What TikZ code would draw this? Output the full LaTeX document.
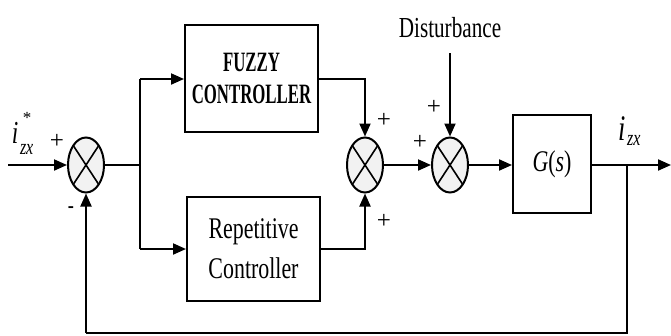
\documentclass[tikz,border=0pt]{standalone}
\usepackage{fontspec}
\usepackage{graphicx}
\setmainfont{Liberation Serif}
\usetikzlibrary{arrows.meta,shapes.geometric}
\newcommand\hs[1]{\scalebox{0.73}[1]{#1}}
\newcommand\fz[1]{\scalebox{0.6}[1]{#1}}
\begin{document}
\begin{tikzpicture}[x=1pt,y=-1pt,
  line width=2pt,
  arr/.style={-{Triangle[length=13pt,width=11pt]}},
  sumnode/.style={ellipse,draw,line width=2pt,fill=black!5,minimum width=36pt,minimum height=55pt,inner sep=0pt,
    path picture={\draw[line width=1.6pt] (path picture bounding box.north west)--(path picture bounding box.south east)
      (path picture bounding box.north east)--(path picture bounding box.south west);}},
  blk/.style={draw,line width=2pt,inner sep=0pt,align=center},
  txt/.style={font=\fontsize{29}{39}\selectfont,inner sep=0pt},
  pl/.style={font=\fontsize{25}{28}\selectfont,inner sep=0pt}
]
\useasboundingbox[fill=white] (0,0) rectangle (671,335);
% nodes
\coordinate (in) at (8,165);
\node[sumnode] (s1) at (86,165) {};
\coordinate (b) at (140,165);
\coordinate (bt) at (140,79);
\coordinate (bb) at (140,249);
\node[blk,minimum width=133pt,minimum height=107pt,font=\bfseries\fontsize{28}{32}\selectfont] (fz) at (251.5,78.5) {\fz{FUZZY}\\\fz{CONTROLLER}};
\node[blk,minimum width=133pt,minimum height=104pt,font=\fontsize{30}{40}\selectfont] (rc) at (253.5,249) {\hs{Repetitive}\\\hs{Controller}};
\node[sumnode] (s3) at (365,165) {};
\node[sumnode] (s4) at (450,165) {};
\node[txt] (dist) at (450,28) {\hs{Disturbance}};
\coordinate (dtop) at (450,53);
\node[blk,minimum width=78pt,minimum height=98pt,font=\fontsize{30}{34}\selectfont] (g) at (552,164) {\hs{\textit{G}(\textit{s})}};
\coordinate (out) at (671,165);
\coordinate (br) at (627,165);
\coordinate (fb1) at (627,333);
\coordinate (fb2) at (86,333);
% connectors
\draw[arr] (in) -- (s1.west);
\draw (s1.east) -- (b);
\draw (bt) -- (bb);
\draw[arr] (bt) -- (fz.west |- bt);
\draw[arr] (bb) -- (rc.west |- bb);
\draw[arr] (fz.east |- bt) -| (s3.north);
\draw[arr] (rc.east |- bb) -| (s3.south);
\draw[arr] (s3.east) -- (s4.west);
\draw[arr] (dtop) -- (s4.north);
\draw[arr] (s4.east) -- (g.west |- s4);
\draw[arr] (g.east |- s4) -- (out);
\draw (br) -- (fb1) -- (fb2);
\draw[arr] (fb2) -- (s1.south);
% labels
\node[pl] (p1) at (57,141) {+};
\node[pl] (m1) at (71,210) {\hs{-}};
\node[pl] (p3a) at (384,120) {+};
\node[pl] (p3b) at (384,221) {+};
\node[pl] (p4a) at (420,142) {+};
\node[pl] (p4b) at (434,107) {+};
\node[inner sep=0pt,anchor=base west,font=\fontsize{32}{34}\selectfont] (lin) at (11,143) {\hs{\textit{i}}};
\node[inner sep=0pt,font=\fontsize{17}{18}\selectfont] (lstar) at (27,118) {*};
\node[inner sep=0pt,anchor=base west,font=\fontsize{22}{24}\selectfont] (lsub) at (19,154) {\hs{\textit{zx}}};
\node[inner sep=0pt,anchor=base west,font=\fontsize{36}{38}\selectfont] (lout) at (617,140) {\hs{\textit{i}}};
\node[inner sep=0pt,anchor=base west,font=\fontsize{22}{24}\selectfont] (loutsub) at (626,145) {\hs{\textit{zx}}};
\end{tikzpicture}
\end{document}
